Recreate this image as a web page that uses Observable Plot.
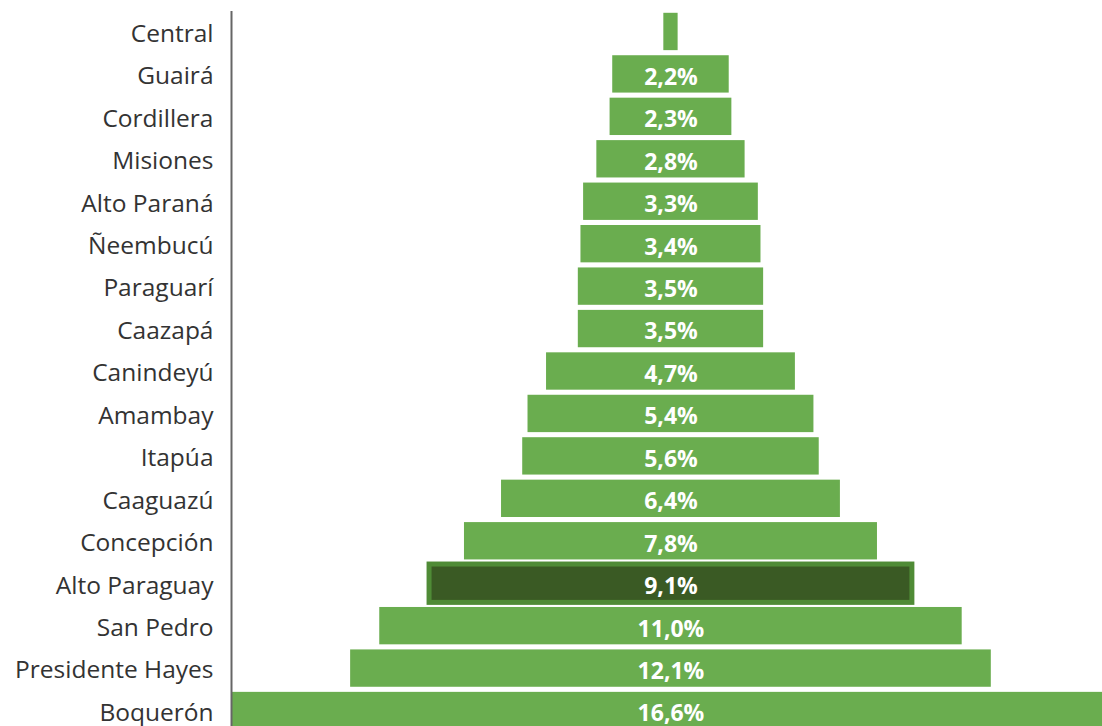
<!DOCTYPE html>
<html>
<head>
<meta charset="utf-8">
<script src="https://cdn.jsdelivr.net/npm/d3@7"></script>
<script src="https://cdn.jsdelivr.net/npm/@observablehq/plot@0.6"></script>
<style>
  html, body { margin: 0; padding: 0; background: #fff; overflow: hidden; }
  #chart svg { display: block; }
</style>
</head>
<body>
<div id="chart"></div>
<script>
const departamentos = ["Central","Guairá","Cordillera","Misiones","Alto Paraná","Ñeembucú","Paraguarí","Caazapá","Canindeyú","Amambay","Itapúa","Caaguazú","Concepción","Alto Paraguay","San Pedro","Presidente Hayes","Boquerón"];
const valores = [0.27, 2.2, 2.3, 2.8, 3.3, 3.4, 3.5, 3.5, 4.7, 5.4, 5.6, 6.4, 7.8, 9.1, 11.0, 12.1, 16.6];
const destacado = "Alto Paraguay";

const data = departamentos.map((d, i) => ({dep: d, v: valores[i]}));
const fmt = v => v.toFixed(1).replace(".", ",") + "%";

const plot = Plot.plot({
  width: 1102,
  height: 726,
  marginLeft: 231,
  marginRight: 0,
  marginTop: 11,
  marginBottom: 0,
  style: {fontFamily: "'Open Sans', sans-serif", background: "#fff"},
  x: {domain: [-8.3, 8.15], axis: null},
  y: {domain: departamentos, range: [7.7, 734.3], padding: 0.12, round: false, label: null},
  marks: [
    Plot.barX(data.filter(d => d.dep !== destacado), {
      y: "dep", x1: d => -d.v / 2, x2: d => d.v / 2, fill: "#6aad4f"
    }),
    Plot.barX(data.filter(d => d.dep === destacado), {
      y: "dep", x1: d => -d.v / 2, x2: d => d.v / 2, fill: "#3a5a24",
      stroke: "#4f8b36", strokeWidth: 5, inset: -0.5
    }),
    Plot.text(data.filter(d => d.v >= 1), {
      y: "dep", x: 0, text: d => fmt(d.v), fill: "#fff",
      fontSize: 23, fontWeight: "bold", dy: 3
    }),
    Plot.axisY({tickSize: 0, tickPadding: 18, fontSize: 24.5, color: "#333", label: null, dy: 2}),
    Plot.ruleX([-8.3], {stroke: "#666", strokeWidth: 2})
  ]
});
document.getElementById("chart").appendChild(plot);
</script>
</body>
</html>
